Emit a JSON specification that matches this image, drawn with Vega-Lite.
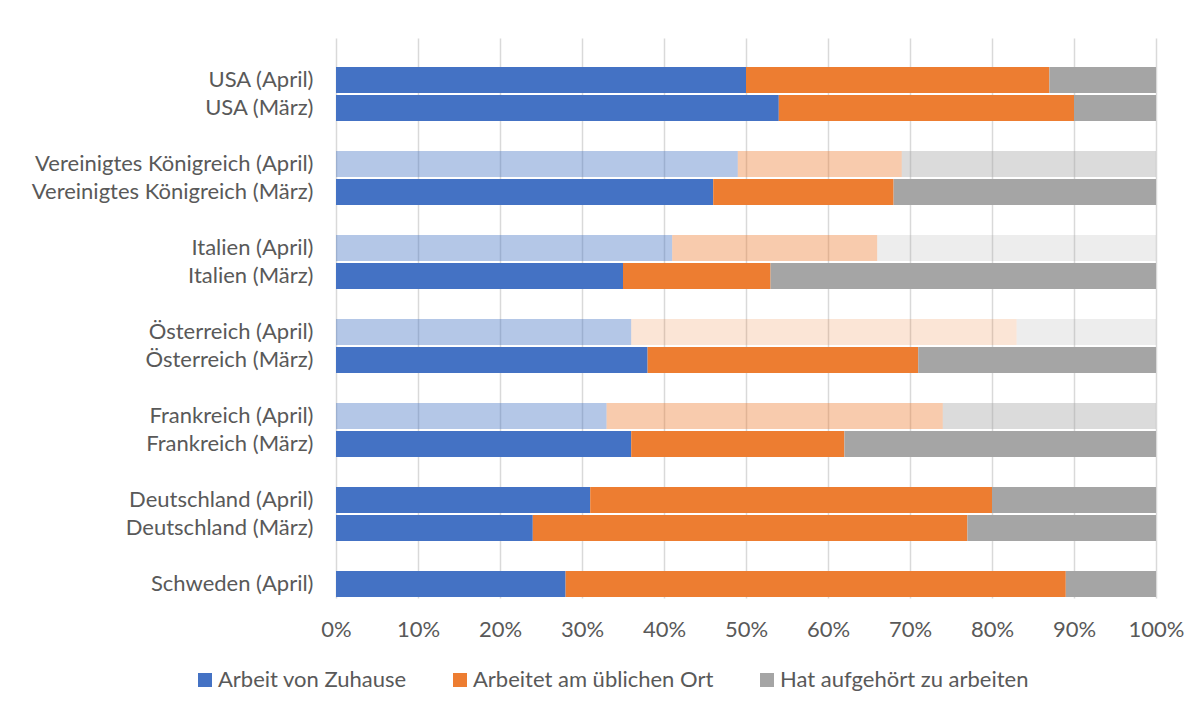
{
  "$schema": "https://vega.github.io/schema/vega-lite/v6.json",
  "width": 820,
  "height": 560,
  "autosize": {"type": "none"},
  "padding": {"left": 336, "top": 38, "right": 48, "bottom": 118},
  "background": "#ffffff",
  "data": {
    "values": [
      {"Land": "USA (April)", "Kategorie": "Arbeit von Zuhause", "Anteil": 50, "Darstellung": "voll"},
      {"Land": "USA (April)", "Kategorie": "Arbeitet am üblichen Ort", "Anteil": 37, "Darstellung": "voll"},
      {"Land": "USA (April)", "Kategorie": "Hat aufgehört zu arbeiten", "Anteil": 13, "Darstellung": "voll"},
      {"Land": "USA (März)", "Kategorie": "Arbeit von Zuhause", "Anteil": 54, "Darstellung": "voll"},
      {"Land": "USA (März)", "Kategorie": "Arbeitet am üblichen Ort", "Anteil": 36, "Darstellung": "voll"},
      {"Land": "USA (März)", "Kategorie": "Hat aufgehört zu arbeiten", "Anteil": 10, "Darstellung": "voll"},
      {"Land": "Vereinigtes Königreich (April)", "Kategorie": "Arbeit von Zuhause", "Anteil": 49, "Darstellung": "hell"},
      {"Land": "Vereinigtes Königreich (April)", "Kategorie": "Arbeitet am üblichen Ort", "Anteil": 20, "Darstellung": "hell"},
      {"Land": "Vereinigtes Königreich (April)", "Kategorie": "Hat aufgehört zu arbeiten", "Anteil": 31, "Darstellung": "hell"},
      {"Land": "Vereinigtes Königreich (März)", "Kategorie": "Arbeit von Zuhause", "Anteil": 46, "Darstellung": "voll"},
      {"Land": "Vereinigtes Königreich (März)", "Kategorie": "Arbeitet am üblichen Ort", "Anteil": 22, "Darstellung": "voll"},
      {"Land": "Vereinigtes Königreich (März)", "Kategorie": "Hat aufgehört zu arbeiten", "Anteil": 32, "Darstellung": "voll"},
      {"Land": "Italien (April)", "Kategorie": "Arbeit von Zuhause", "Anteil": 41, "Darstellung": "hell"},
      {"Land": "Italien (April)", "Kategorie": "Arbeitet am üblichen Ort", "Anteil": 25, "Darstellung": "hell"},
      {"Land": "Italien (April)", "Kategorie": "Hat aufgehört zu arbeiten", "Anteil": 34, "Darstellung": "sehr hell"},
      {"Land": "Italien (März)", "Kategorie": "Arbeit von Zuhause", "Anteil": 35, "Darstellung": "voll"},
      {"Land": "Italien (März)", "Kategorie": "Arbeitet am üblichen Ort", "Anteil": 18, "Darstellung": "voll"},
      {"Land": "Italien (März)", "Kategorie": "Hat aufgehört zu arbeiten", "Anteil": 47, "Darstellung": "voll"},
      {"Land": "Österreich (April)", "Kategorie": "Arbeit von Zuhause", "Anteil": 36, "Darstellung": "hell"},
      {"Land": "Österreich (April)", "Kategorie": "Arbeitet am üblichen Ort", "Anteil": 47, "Darstellung": "sehr hell"},
      {"Land": "Österreich (April)", "Kategorie": "Hat aufgehört zu arbeiten", "Anteil": 17, "Darstellung": "sehr hell"},
      {"Land": "Österreich (März)", "Kategorie": "Arbeit von Zuhause", "Anteil": 38, "Darstellung": "voll"},
      {"Land": "Österreich (März)", "Kategorie": "Arbeitet am üblichen Ort", "Anteil": 33, "Darstellung": "voll"},
      {"Land": "Österreich (März)", "Kategorie": "Hat aufgehört zu arbeiten", "Anteil": 29, "Darstellung": "voll"},
      {"Land": "Frankreich (April)", "Kategorie": "Arbeit von Zuhause", "Anteil": 33, "Darstellung": "hell"},
      {"Land": "Frankreich (April)", "Kategorie": "Arbeitet am üblichen Ort", "Anteil": 41, "Darstellung": "hell"},
      {"Land": "Frankreich (April)", "Kategorie": "Hat aufgehört zu arbeiten", "Anteil": 26, "Darstellung": "hell"},
      {"Land": "Frankreich (März)", "Kategorie": "Arbeit von Zuhause", "Anteil": 36, "Darstellung": "voll"},
      {"Land": "Frankreich (März)", "Kategorie": "Arbeitet am üblichen Ort", "Anteil": 26, "Darstellung": "voll"},
      {"Land": "Frankreich (März)", "Kategorie": "Hat aufgehört zu arbeiten", "Anteil": 38, "Darstellung": "voll"},
      {"Land": "Deutschland (April)", "Kategorie": "Arbeit von Zuhause", "Anteil": 31, "Darstellung": "voll"},
      {"Land": "Deutschland (April)", "Kategorie": "Arbeitet am üblichen Ort", "Anteil": 49, "Darstellung": "voll"},
      {"Land": "Deutschland (April)", "Kategorie": "Hat aufgehört zu arbeiten", "Anteil": 20, "Darstellung": "voll"},
      {"Land": "Deutschland (März)", "Kategorie": "Arbeit von Zuhause", "Anteil": 24, "Darstellung": "voll"},
      {"Land": "Deutschland (März)", "Kategorie": "Arbeitet am üblichen Ort", "Anteil": 53, "Darstellung": "voll"},
      {"Land": "Deutschland (März)", "Kategorie": "Hat aufgehört zu arbeiten", "Anteil": 23, "Darstellung": "voll"},
      {"Land": "Schweden (April)", "Kategorie": "Arbeit von Zuhause", "Anteil": 28, "Darstellung": "voll"},
      {"Land": "Schweden (April)", "Kategorie": "Arbeitet am üblichen Ort", "Anteil": 61, "Darstellung": "voll"},
      {"Land": "Schweden (April)", "Kategorie": "Hat aufgehört zu arbeiten", "Anteil": 11, "Darstellung": "voll"}
    ]
  },
  "mark": {"type": "bar"},
  "encoding": {
    "y": {
      "field": "Land",
      "type": "nominal",
      "title": null,
      "scale": {
        "domain": ["_l0", "USA (April)", "USA (März)", "_l1", "Vereinigtes Königreich (April)", "Vereinigtes Königreich (März)", "_l2", "Italien (April)", "Italien (März)", "_l3", "Österreich (April)", "Österreich (März)", "_l4", "Frankreich (April)", "Frankreich (März)", "_l5", "Deutschland (April)", "Deutschland (März)", "_l6", "Schweden (April)"],
        "paddingInner": 0.07,
        "paddingOuter": 0.035
      },
      "axis": {
        "labelExpr": "indexof(datum.value, '_l') === 0 ? '' : datum.value",
        "labelPadding": 23,
        "labelLimit": 400,
        "grid": false
      }
    },
    "x": {
      "field": "Anteil",
      "type": "quantitative",
      "stack": "normalize",
      "title": null,
      "scale": {"domain": [0, 1], "nice": false},
      "axis": {
        "values": [0, 0.1, 0.2, 0.3, 0.4, 0.5, 0.6, 0.7, 0.8, 0.9, 1],
        "format": ".0%",
        "grid": true,
        "gridColor": "#D9D9D9",
        "gridWidth": 1.5,
        "labelPadding": 21,
        "labelFlush": false,
        "labelOverlap": false
      }
    },
    "color": {
      "field": "Kategorie",
      "type": "nominal",
      "title": null,
      "scale": {
        "domain": ["Arbeit von Zuhause", "Arbeitet am üblichen Ort", "Hat aufgehört zu arbeiten"],
        "range": ["#4472C4", "#ED7D31", "#A5A5A5"]
      },
      "legend": {
        "orient": "none",
        "direction": "horizontal",
        "legendX": -142,
        "legendY": 631,
        "symbolType": "square",
        "symbolSize": 196,
        "symbolStrokeWidth": 0,
        "labelOffset": 2,
        "columnPadding": 42,
        "labelFont": "Lato",
        "labelFontSize": 22,
        "labelColor": "#595959",
        "labelLimit": 400
      }
    },
    "opacity": {
      "field": "Darstellung",
      "type": "nominal",
      "scale": {"type": "ordinal", "domain": ["voll", "hell", "sehr hell"], "range": [1, 0.4, 0.2]},
      "legend": null
    }
  },
  "config": {
    "view": {"stroke": null},
    "axis": {
      "domain": false,
      "ticks": false,
      "labelFont": "Lato",
      "labelFontSize": 22,
      "labelColor": "#595959"
    }
  }
}
